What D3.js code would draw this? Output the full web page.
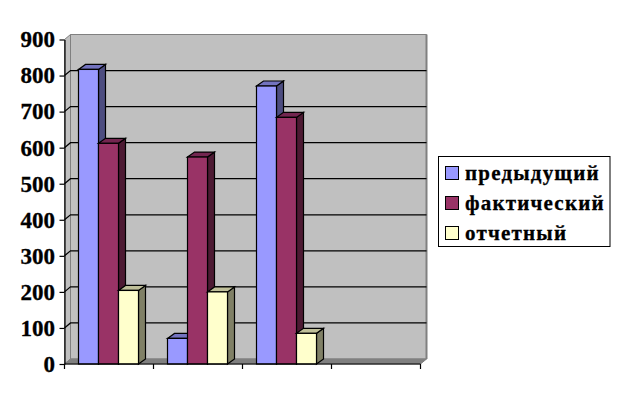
<!DOCTYPE html>
<html><head><meta charset="utf-8">
<script src="https://cdn.jsdelivr.net/npm/d3@7/dist/d3.min.js"></script>
<style>html,body{margin:0;padding:0;background:#fff}svg{display:block}
text{font-family:"Liberation Serif",serif;font-weight:bold;fill:#000;stroke:#000;stroke-width:.3px}</style>
</head><body><svg id="c" width="619" height="403"></svg>
<script>
const categories = ["1", "2", "3", "4"];
const seriesNames = ["предыдущий", "фактический", "отчетный"];
const previous = [817, 71, 771, null];
const actual = [612, 574, 684, null];
const reported = [204, 200, 85, null];
const yTicks = [0, 100, 200, 300, 400, 500, 600, 700, 800, 900];
const fronts = ["#9999ff", "#993366", "#ffffcc"];
const tops = ["#7373bf", "#732650", "#bfbf99"];
const sides = ["#4d4d80", "#4d1a33", "#808066"];

const svg = d3.select("#c");
const x = d3.scaleBand().domain(categories).range([64.5, 420.5]);
const inner = d3.scaleBand().domain(d3.range(3)).range([14, 74]);
const y = d3.scaleLinear().domain([0, 900]).range([364, 39.5]);
const wallDx = 6, wallDy = -5, barDx = 7, barDy = -5;
const x0 = 64.5, x1 = 420.5, y0 = y(0), yT = y(900);
const poly = pts => pts.map(p => p.join(",")).join(" ");

// walls
svg.append("polygon").attr("points", poly([[x0+wallDx,yT+wallDy],[x1+wallDx,yT+wallDy],[x1+wallDx,y0+wallDy],[x0+wallDx,y0+wallDy]]))
  .attr("fill", "#c0c0c0").attr("stroke", "#808080").attr("stroke-width", 1);
svg.append("polygon").attr("points", poly([[x0,yT],[x0+wallDx,yT+wallDy],[x0+wallDx,y0+wallDy],[x0,y0]]))
  .attr("fill", "#c0c0c0").attr("stroke", "#808080").attr("stroke-width", 1);
svg.append("line").attr("x1", x1+wallDx).attr("x2", x1+wallDx).attr("y1", yT+wallDy).attr("y2", y0+wallDy)
  .attr("stroke", "#808080").attr("stroke-width", 2);
svg.append("polygon").attr("points", poly([[x0,y0],[x1,y0],[x1+wallDx,y0+wallDy],[x0+wallDx,y0+wallDy]]))
  .attr("fill", "#808080").attr("stroke", "#808080").attr("stroke-width", 1);

// gridlines
yTicks.filter(t => t > 0 && t < 900).forEach(t => {
  svg.append("polyline").attr("fill", "none").attr("stroke", "#000").attr("stroke-width", 1.2)
    .attr("points", poly([[x0,y(t)],[x0+wallDx,y(t)+wallDy],[x1+wallDx,y(t)+wallDy]]));
});

// bars
[previous, actual, reported].forEach((vals, s) => {
  categories.forEach((c, i) => {
    const v = vals[i];
    if (v == null) return;
    const l = x(c) + inner(s), r = l + inner.bandwidth(), t = y(v), b = y(0);
    const g = svg.append("g").attr("stroke", "#000").attr("stroke-width", 1.2).attr("stroke-linejoin", "miter");
    g.append("polygon").attr("points", poly([[r,t],[r+barDx,t+barDy],[r+barDx,b+barDy],[r,b]])).attr("fill", sides[s]);
    g.append("polygon").attr("points", poly([[l,t],[l+barDx,t+barDy],[r+barDx,t+barDy],[r,t]])).attr("fill", tops[s]);
    g.append("rect").attr("x", l).attr("y", t).attr("width", r-l).attr("height", b-t).attr("fill", fronts[s]);
  });
});

// axes
const axL = svg.append("g").attr("transform", `translate(${x0},0)`)
  .call(d3.axisLeft(y).tickValues(yTicks).tickSize(5).tickPadding(4.5).tickSizeOuter(0));
axL.selectAll("path,line").attr("stroke", "#000").attr("stroke-width", 1.2);
axL.selectAll("text").style("font-size", "23px").style("font-family", '"Liberation Serif",serif').style("font-weight", "bold").attr("fill", "#000");
const xTickPos = categories.map(c => x(c)).concat([x1]);
svg.append("line").attr("x1", x0).attr("x2", x1).attr("y1", y0).attr("y2", y0).attr("stroke", "#000").attr("stroke-width", 1.2);
xTickPos.forEach(p => svg.append("line").attr("x1", p).attr("x2", p).attr("y1", y0).attr("y2", y0+5).attr("stroke", "#000").attr("stroke-width", 1.2));

// legend
svg.append("rect").attr("x", 438.5).attr("y", 156.5).attr("width", 171.5).attr("height", 90)
  .attr("fill", "#fff").attr("stroke", "#000").attr("stroke-width", 1);
const legendY = d3.scalePoint().domain(seriesNames).range([173, 233]);
seriesNames.forEach((n, i) => {
  const cy = legendY(n);
  svg.append("rect").attr("x", 445.5).attr("y", cy-6.5).attr("width", 13).attr("height", 13)
    .attr("fill", fronts[i]).attr("stroke", "#000").attr("stroke-width", 1);
  svg.append("text").attr("x", 465).attr("y", cy+6.5).style("font-size", "21px").style("letter-spacing", "1.2px").text(n);
});
</script></body></html>
